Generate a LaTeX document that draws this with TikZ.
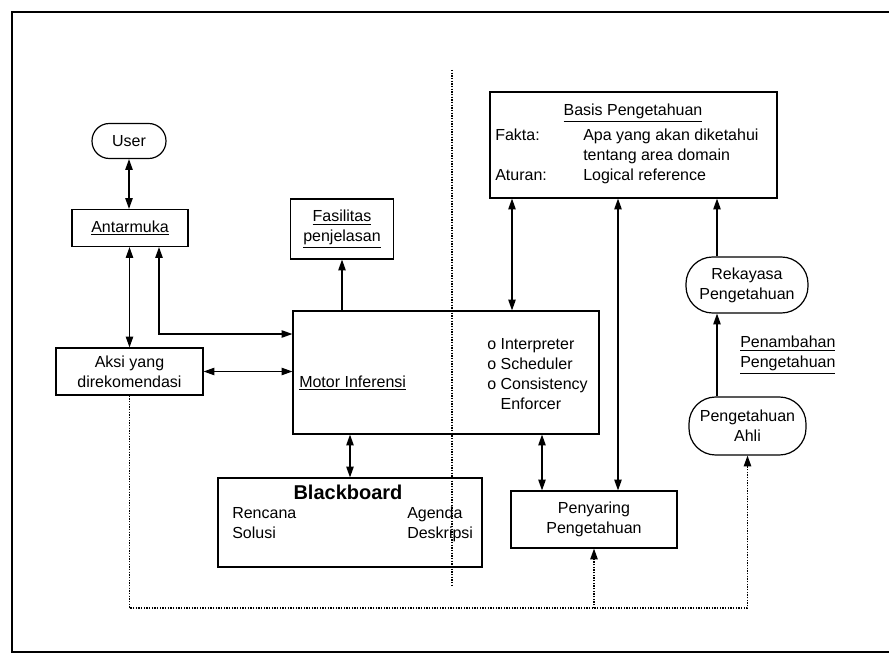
\documentclass[tikz,border=0pt]{standalone}
\usepackage{fontspec}
\setmainfont{Liberation Sans}
\usepackage{tikz}
\usetikzlibrary{arrows.meta}

\begin{document}
\begin{tikzpicture}[x=0.75pt,y=0.75pt,yscale=-1,xscale=1,
  box/.style={draw, line width=0.9pt, inner sep=0.75pt, align=center, font=\fontsize{12}{15}\selectfont},
  pill/.style={box, rounded corners=20pt},
  txt/.style={inner sep=0.75pt, font=\fontsize{12}{15}\selectfont},
  link/.style={line width=0.9pt, {Triangle[length=8pt,width=5.5pt]}-{Triangle[length=8pt,width=5.5pt]}},
  oneway/.style={line width=0.9pt, -{Triangle[length=8pt,width=5.5pt]}},
  dotline/.style={line width=1pt, dash pattern=on 1pt off 1pt}]
\useasboundingbox (0,0) rectangle (889,656);

%Frame
\draw [line width=2.2pt] (889,12) -- (12,12) -- (12,652) -- (889,652) ;

%Dotted divider
\coordinate (dtop) at (452,70);
\coordinate (dbot) at (452,587);
\draw [dotline] (dtop) -- (dbot) ;

%Shape: Rounded Rect
\node [pill, minimum width=55.5pt, minimum height=26.25pt, rounded corners=13pt] (user) at (129,141) {User};
%Shape: Rectangle
\node [box, minimum width=87pt, minimum height=27.75pt] (antar) at (130,228) {\underline{Antarmuka}};
%Shape: Rectangle
\node [box, minimum width=77.25pt, minimum height=45pt] (fasil) at (342,229) {\underline{Fasilitas}\\\underline{penjelasan}};
%Shape: Rectangle
\node [box, minimum width=110.25pt, minimum height=35.25pt] (aksi) at (129.5,371.5) {Aksi yang\\direkomendasi};
%Shape: Rectangle
\node [box, minimum width=229.5pt, minimum height=92.25pt] (motor) at (446,372.5) {};
%Shape: Rectangle
\node [box, minimum width=215.25pt, minimum height=79.5pt] (basis) at (633.5,145) {};
%Shape: Rounded Rect
\node [pill, minimum width=91.5pt, minimum height=42pt] (rekayasa) at (747,285) {Rekayasa\\Pengetahuan};
%Shape: Rounded Rect
\node [pill, minimum width=87.75pt, minimum height=43.5pt] (ahli) at (747.5,426) {Pengetahuan\\Ahli};
%Shape: Rectangle
\node [box, minimum width=124.5pt, minimum height=42.75pt] (penyaring) at (594,519.5) {Penyaring\\Pengetahuan};
%Shape: Rectangle
\node [box, minimum width=198pt, minimum height=66.75pt] (bb) at (350,522.5) {};

% Text Node
\node [txt, anchor=west] (motorlbl) at (298,383) {\underline{Motor Inferensi}};
% Text Node
\node [txt, anchor=north west, align=left] (motoritems) at (486,337) {o Interpreter\\o Scheduler\\o Consistency\\\phantom{o }Enforcer};
% Text Node
\node [txt] (basistitle) at (633,113) {\underline{Basis Pengetahuan}};
% Text Node
\node [txt, anchor=north west] (basistab) at (494,125) {\begin{tabular}{@{}p{66pt}@{}l@{}}
Fakta: & Apa yang akan diketahui\\
 & tentang area domain\\
Aturan: & Logical reference
\end{tabular}};
% Text Node
\node [txt, anchor=west, align=left] (tambah) at (739,355) {\underline{Penambahan}\\\underline{Pengetahuan}};
% Text Node
\node [txt, font=\bfseries\fontsize{15}{18}\selectfont] (bbtitle) at (348,492) {Blackboard};
% Text Node
\node [txt, anchor=north west, align=left] (bbleft) at (231,506) {Rencana\\Solusi};
% Text Node
\node [txt, anchor=north west, align=left] (bbright) at (406,506) {Agenda\\Deskripsi};

%Columns of the connectors
\coordinate (colA) at (159,334);
\coordinate (colB) at (512,0);
\coordinate (colC) at (618,0);
\coordinate (colD) at (717,0);
\coordinate (colE) at (542,0);
\coordinate (rowF) at (0,608);

%Connectors
\draw [link] (user.south) -- (user.south |- antar.north) ;
\draw [link] (antar.south -| aksi.north) -- (aksi.north) ;
\draw [link] (antar.south -| colA) |- (motor.west |- colA) ;
\draw [link] (aksi.east) -- (aksi.east -| motor.west) ;
\draw [oneway] (motor.north -| fasil.south) -- (fasil.south) ;
\draw [link] (basis.south -| colB) -- (motor.north -| colB) ;
\draw [link] (basis.south -| colC) -- (penyaring.north -| colC) ;
\draw [oneway] (rekayasa.north -| colD) -- (basis.south -| colD) ;
\draw [oneway] (ahli.north -| colD) -- (rekayasa.south -| colD) ;
\draw [link] (motor.south -| bb.north) -- (bb.north) ;
\draw [link] (motor.south -| colE) -- (penyaring.north -| colE) ;
\draw [dotline, -{Triangle[length=8pt,width=5.5pt]}] (aksi.south) -- (aksi.south |- rowF) -| (ahli.south) ;
\draw [dotline, -{Triangle[length=8pt,width=5.5pt]}] (penyaring.south |- rowF) -- (penyaring.south) ;

\end{tikzpicture}
\end{document}
